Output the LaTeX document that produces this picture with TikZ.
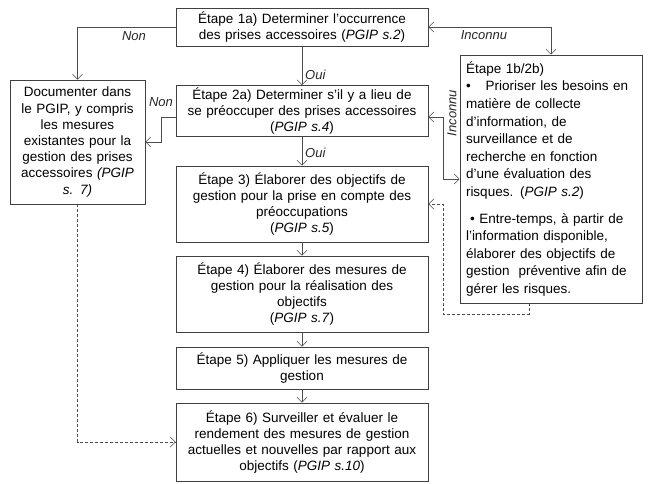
\documentclass[tikz,border=0pt]{standalone}
\usepackage{fontspec}
\setmainfont{Liberation Sans}
\usetikzlibrary{arrows.meta}
\begin{document}
\begin{tikzpicture}[x=1pt,y=-1pt,
  font=\fontsize{13.5}{16.2}\selectfont,
  stepbox/.style={draw=black!75, line width=0.7pt, inner xsep=4pt, inner ysep=2pt,
    align=center, text width=244pt, minimum width=252pt},
  sidebox/.style={draw=black!75, line width=0.7pt, inner ysep=3pt},
  conn/.style={draw=black!70, line width=0.6pt, -{Straight Barb[length=5pt,width=10pt]}},
  bconn/.style={draw=black!70, line width=0.6pt, {Straight Barb[length=5pt,width=10pt]}-{Straight Barb[length=5pt,width=10pt]}},
  dconn/.style={conn, dash pattern=on 3pt off 2pt},
  lbl/.style={font=\fontsize{13}{15}\selectfont\itshape, inner sep=1pt, text=black!85}
]
\useasboundingbox (0,0) rectangle (650,484);

\node[stepbox, minimum height=38pt] (s1) at (302,27)
  {Étape 1a) Determiner l'occurrence\\des prises accessoires (\textit{PGIP s.2})};
\node[stepbox, minimum height=46pt] (s2) at (302,111)
  {Étape 2a) Determiner s'il y a lieu de\\se préoccuper des prises accessoires\\(\textit{PGIP s.4})};
\node[stepbox, minimum height=76pt] (s3) at (302,204)
  {Étape 3) Élaborer des objectifs de\\gestion pour la prise en compte des\\préoccupations\\(\textit{PGIP s.5})};
\node[stepbox, minimum height=76pt] (s4) at (302,294)
  {Étape 4) Élaborer des mesures de\\gestion pour la réalisation des\\objectifs\\(\textit{PGIP s.7})};
\node[stepbox, minimum height=42pt] (s5) at (302,368)
  {Étape 5) Appliquer les mesures de\\gestion};
\node[stepbox, minimum height=78pt] (s6) at (302,442)
  {Étape 6) Surveiller et évaluer le\\rendement des mesures de gestion\\actuelles et nouvelles par rapport aux\\objectifs (\textit{PGIP s.10})};

\node[sidebox, inner xsep=4pt, text width=127pt, minimum width=135pt, minimum height=124pt, align=center] (left) at (77.5,142)
  {Documenter dans\\le PGIP, y compris\\les mesures\\existantes pour la\\gestion des prises\\accessoires \textit{(PGIP\\s. 7)}};

\node[sidebox, inner xsep=6pt, text width=170pt, minimum width=182pt, minimum height=248pt, align=left,
      font=\fontsize{13.5}{17.6}\selectfont] (right) at (551,179)
  {Étape 1b/2b)\\
   •\hspace{1.1em}Prioriser les besoins en\\
   matière de collecte\\
   d'information, de\\
   surveillance et de\\
   recherche en fonction\\
   d'une évaluation des\\
   risques. (\textit{PGIP s.2})\\[9pt]
   \hspace{0.3em}• Entre-temps, à partir de\\
   l'information disponible,\\
   élaborer des objectifs de\\
   gestion\ \ préventive afin de\\
   gérer les risques.};

% vertical flow
\draw[conn] (s1) -- (s2);
\draw[conn] (s2) -- (s3);
\draw[conn] (s3) -- (s4);
\draw[conn] (s4) -- (s5);
\draw[conn] (s5) -- (s6);

% Non branches
\draw[conn] (s1.west) -| (left.north);
\draw[conn] ([yshift=-6pt]s2.west) -- ++(-14,0) |- (left.east);

% Inconnu branches
\draw[bconn] (s1.east) -| (right.north);
\draw[bconn] ([yshift=-6pt]s2.east) -- ++(15,0) |- (right.west);

% dashed links
\draw[dconn] (left.south) |- (s6.west);
\coordinate (dc) at (443,314);
\draw[dconn] ([xshift=-22pt]right.south) |- (dc) |- (s3.east);

% labels
\node[lbl, anchor=west] (oui1) at (304,75) {Oui};
\node[lbl, anchor=west] (oui2) at (304,153) {Oui};
\node[lbl] (non1) at (134,36) {Non};
\node[lbl] (non2) at (161,102) {Non};
\node[lbl] (inc1) at (484,35) {Inconnu};
\node[lbl, rotate=90] (inc2) at (452,113) {Inconnu};
\end{tikzpicture}
\end{document}
